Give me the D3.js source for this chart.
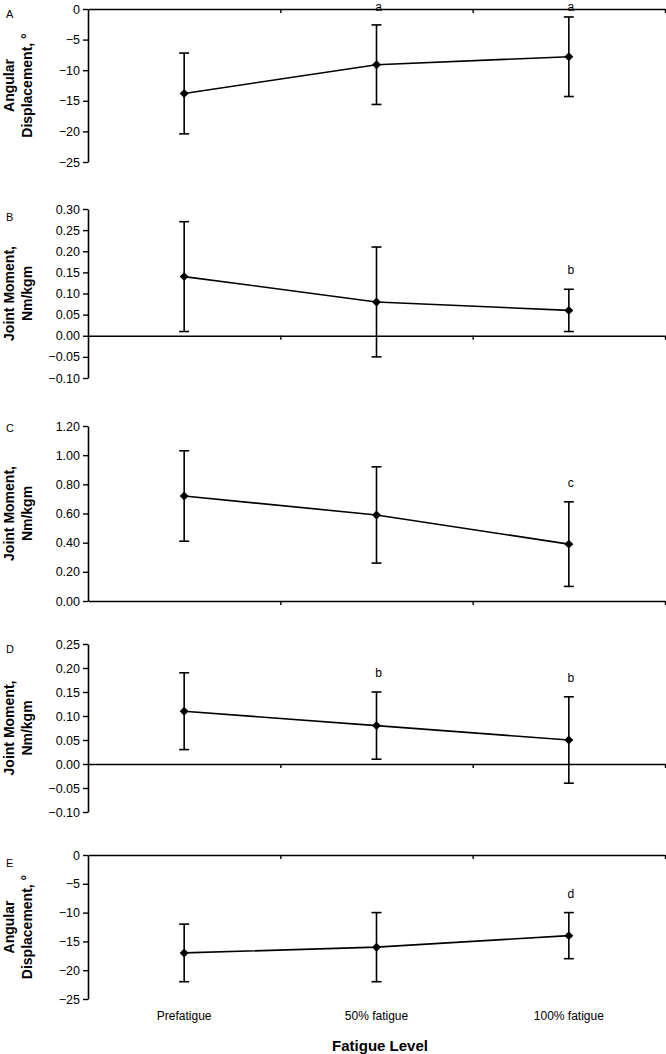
<!DOCTYPE html>
<html>
<head>
<meta charset="utf-8">
<script src="https://cdn.jsdelivr.net/npm/d3@7"></script>
<style>
  html, body { margin: 0; padding: 0; background: #fff; }
  svg { display: block; font-family: "Liberation Sans", Arial, sans-serif; }
</style>
</head>
<body>
<svg id="chart" width="666" height="1054"></svg>
<script>
// ---- data ----
const categories = ["Prefatigue", "50% fatigue", "100% fatigue"];

const meansA = [-13.8, -9.1, -7.8];
const sdA    = [6.6, 6.5, 6.5];
const sigA   = ["", "a", "a"];
const ticksA = [0, -5, -10, -15, -20, -25];

const meansB = [0.14, 0.08, 0.06];
const sdB    = [0.13, 0.13, 0.05];
const sigB   = ["", "", "b"];
const ticksB = [0.30, 0.25, 0.20, 0.15, 0.10, 0.05, 0.00, -0.05, -0.10];

const meansC = [0.72, 0.59, 0.39];
const sdC    = [0.31, 0.33, 0.29];
const sigC   = ["", "", "c"];
const ticksC = [1.20, 1.00, 0.80, 0.60, 0.40, 0.20, 0.00];

const meansD = [0.11, 0.08, 0.05];
const sdD    = [0.08, 0.07, 0.09];
const sigD   = ["", "b", "b"];
const ticksD = [0.25, 0.20, 0.15, 0.10, 0.05, 0.00, -0.05, -0.10];

const meansE = [-17, -16, -14];
const sdE    = [5, 6, 4];
const sigE   = ["", "", "d"];
const ticksE = [0, -5, -10, -15, -20, -25];

const xTitle = "Fatigue Level";

// ---- layout ----
const panels = [
  { letter: "A", label: ["Angular", "Displacement, °"], means: meansA, sd: sdA, sig: sigA, ticks: ticksA, fmt: d3.format("d"), top: 9,   bottom: 162, letterY: 17.5 },
  { letter: "B", label: ["Joint Moment,", "Nm/kgm"],    means: meansB, sd: sdB, sig: sigB, ticks: ticksB, fmt: d3.format(".2f"), top: 209, bottom: 378, letterY: 220.5 },
  { letter: "C", label: ["Joint Moment,", "Nm/kgm"],    means: meansC, sd: sdC, sig: sigC, ticks: ticksC, fmt: d3.format(".2f"), top: 426, bottom: 601, letterY: 432 },
  { letter: "D", label: ["Joint Moment,", "Nm/kgm"],    means: meansD, sd: sdD, sig: sigD, ticks: ticksD, fmt: d3.format(".2f"), top: 644, bottom: 812, letterY: 653 },
  { letter: "E", label: ["Angular", "Displacement, °"], means: meansE, sd: sdE, sig: sigE, ticks: ticksE, fmt: d3.format("d"), top: 855, bottom: 999, letterY: 866.5 }
];

const left = 88, right = 665;
const svg = d3.select("#chart");

const x = d3.scaleBand().domain(categories).range([left, right]);
const xEdges = d3.scaleLinear().domain([0, categories.length]).range([left, right]);

panels.forEach(p => {
  const ext = d3.extent(p.ticks);
  const y = d3.scaleLinear().domain([ext[0], ext[1]]).range([p.bottom, p.top]);
  const g = svg.append("g");

  // y axis
  const yAxis = g.append("g")
    .attr("transform", `translate(${left},0)`)
    .call(d3.axisLeft(y).tickValues(p.ticks).tickFormat(p.fmt).tickSize(5).tickSizeOuter(0).tickPadding(3));
  yAxis.select(".domain").attr("stroke", "#000").attr("stroke-width", 1.6);
  yAxis.selectAll(".tick line").attr("stroke", "#000").attr("stroke-width", 1.4);
  yAxis.selectAll(".tick text").attr("font-size", 12.5).attr("fill", "#000")
    .attr("font-family", "Liberation Sans, Arial, sans-serif");

  // x axis at value 0 (or bottom if 0 is the minimum)
  const zeroY = y(0);
  const xAxis = g.append("g")
    .attr("transform", `translate(0,${zeroY})`)
    .call(d3.axisBottom(xEdges).tickValues(d3.range(1, categories.length + 1)).tickFormat("").tickSize(4).tickSizeOuter(0));
  xAxis.select(".domain").attr("stroke", "#000").attr("stroke-width", 1.6);
  xAxis.selectAll(".tick line").attr("stroke", "#000").attr("stroke-width", 1.4);

  // panel letter
  g.append("text").attr("x", 6).attr("y", p.letterY)
    .attr("font-size", 11).attr("fill", "#000").text(p.letter);

  // y label (two rotated lines)
  const cy = (p.top + p.bottom) / 2;
  p.label.forEach((t, i) => {
    g.append("text")
      .attr("transform", `translate(${14 + i * 18},${cy}) rotate(-90)`)
      .attr("text-anchor", "middle")
      .attr("font-size", 14).attr("font-weight", "bold").attr("fill", "#000")
      .text(t);
  });

  const pts = categories.map((c, i) => ({ c, m: p.means[i], s: p.sd[i], sig: p.sig[i] }));

  // connecting line
  g.append("path").datum(pts)
    .attr("fill", "none").attr("stroke", "#000").attr("stroke-width", 1.6)
    .attr("d", d3.line().x(d => x(d.c) + x.bandwidth() / 2).y(d => y(d.m)));

  // error bars
  const eb = g.selectAll(".eb").data(pts).enter().append("g")
    .attr("transform", d => `translate(${x(d.c) + x.bandwidth() / 2},0)`);
  eb.append("line").attr("y1", d => y(d.m + d.s)).attr("y2", d => y(d.m - d.s))
    .attr("stroke", "#000").attr("stroke-width", 1.6);
  eb.append("line").attr("x1", -5).attr("x2", 5).attr("y1", d => y(d.m + d.s)).attr("y2", d => y(d.m + d.s))
    .attr("stroke", "#000").attr("stroke-width", 1.6);
  eb.append("line").attr("x1", -5).attr("x2", 5).attr("y1", d => y(d.m - d.s)).attr("y2", d => y(d.m - d.s))
    .attr("stroke", "#000").attr("stroke-width", 1.6);

  // markers
  eb.append("path")
    .attr("transform", d => `translate(0,${y(d.m)}) rotate(45)`)
    .attr("d", d3.symbol(d3.symbolSquare, 40)())
    .attr("fill", "#000");

  // significance letters
  eb.filter(d => d.sig).append("text")
    .attr("x", 2).attr("y", d => Math.max(y(d.m + d.s) - 15, 10.5))
    .attr("text-anchor", "middle").attr("font-size", 12).attr("fill", "#000")
    .text(d => d.sig);
});

// category labels
svg.selectAll(".cat").data(categories).enter().append("text")
  .attr("x", d => x(d) + x.bandwidth() / 2).attr("y", 1020)
  .attr("text-anchor", "middle").attr("font-size", 12).attr("fill", "#000")
  .text(d => d);

svg.append("text").attr("x", 380).attr("y", 1051)
  .attr("text-anchor", "middle").attr("font-size", 15).attr("font-weight", "bold").attr("fill", "#000")
  .text(xTitle);
</script>
</body>
</html>
